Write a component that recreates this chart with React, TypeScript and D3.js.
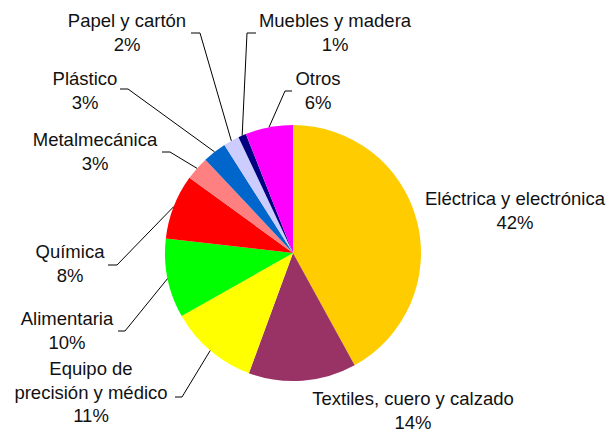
import React from "react";
import * as d3 from "d3";

const categories = [
  "Eléctrica y electrónica",
  "Textiles, cuero y calzado",
  "Equipo de precisión y médico",
  "Alimentaria",
  "Química",
  "Metalmecánica",
  "Plástico",
  "Papel y cartón",
  "Muebles y madera",
  "Otros",
];
const values = [42.0, 13.6, 11.2, 10.0, 8.2, 3.0, 3.0, 2.0, 1.0, 6.0];
const colors = [
  "#FFCC00",
  "#993366",
  "#FFFF00",
  "#00FF00",
  "#FF0000",
  "#FF8080",
  "#0066CC",
  "#CCCCFF",
  "#000080",
  "#FF00FF",
];
// label text lines (category split for wrapping)
const labelLines = [
  ["Eléctrica y electrónica"],
  ["Textiles, cuero y calzado"],
  ["Equipo de", "precisión y médico"],
  ["Alimentaria"],
  ["Química"],
  ["Metalmecánica"],
  ["Plástico"],
  ["Papel y cartón"],
  ["Muebles y madera"],
  ["Otros"],
];
// layout: label center x, first baseline y, leader (elbow x, end x, y) or null
const labelLayout = [
  { x: 515, y: 205, leader: null },
  { x: 413, y: 405, leader: null },
  { x: 91, y: 375, leader: [182, 175, 397] },
  { x: 67, y: 325, leader: [125, 118, 331] },
  { x: 70, y: 258, leader: [117, 108, 265] },
  { x: 95, y: 146, leader: [170, 162, 152] },
  { x: 85, y: 85, leader: [128, 120, 89] },
  { x: 127, y: 27, leader: [200, 191, 33] },
  { x: 335, y: 27, leader: [247, 256, 33] },
  { x: 318, y: 85, leader: [285, 292, 91] },
];

const W = 613;
const H = 431;
const CX = 293;
const CY = 253;
const R = 128;
const LH = 23.5;
const FONT = "'Liberation Sans', Arial, sans-serif";

export default function App() {
  React.useEffect(() => {
    document.body.style.margin = "0";
  }, []);
  const total = d3.sum(values);
  const pie = d3.pie<number>().sort(null).value((d) => d)(values);
  const arc = d3.arc<d3.PieArcDatum<number>>().innerRadius(0).outerRadius(R);
  const edge = (a: d3.PieArcDatum<number>) => {
    const m = (a.startAngle + a.endAngle) / 2;
    return [CX + R * Math.sin(m), CY - R * Math.cos(m)];
  };
  return (
    <svg width={W} height={H} style={{ display: "block" }}>
      <rect width={W} height={H} fill="#fff" />
      <g transform={`translate(${CX},${CY})`}>
        {pie.map((p, i) => (
          <path key={i} d={arc(p) || ""} fill={colors[i]} />
        ))}
      </g>
      {pie.map((p, i) => {
        const L = labelLayout[i];
        if (!L.leader) return null;
        const [ex, ey] = edge(p);
        const [bx, hx, hy] = L.leader;
        return (
          <polyline
            key={"l" + i}
            points={`${ex},${ey} ${bx},${hy} ${hx},${hy}`}
            fill="none"
            stroke="#000"
            strokeWidth={1}
          />
        );
      })}
      {categories.map((c, i) => {
        const L = labelLayout[i];
        const lines = [...labelLines[i], `${Math.round((values[i] / total) * 100)}%`];
        return (
          <text
            key={"t" + i}
            x={L.x}
            y={L.y}
            textAnchor="middle"
            fontFamily={FONT}
            fontSize={18.5}
            fill="#111"
          >
            {lines.map((ln, k) => (
              <tspan key={k} x={L.x} y={L.y + k * LH}>
                {ln}
              </tspan>
            ))}
          </text>
        );
      })}
    </svg>
  );
}
